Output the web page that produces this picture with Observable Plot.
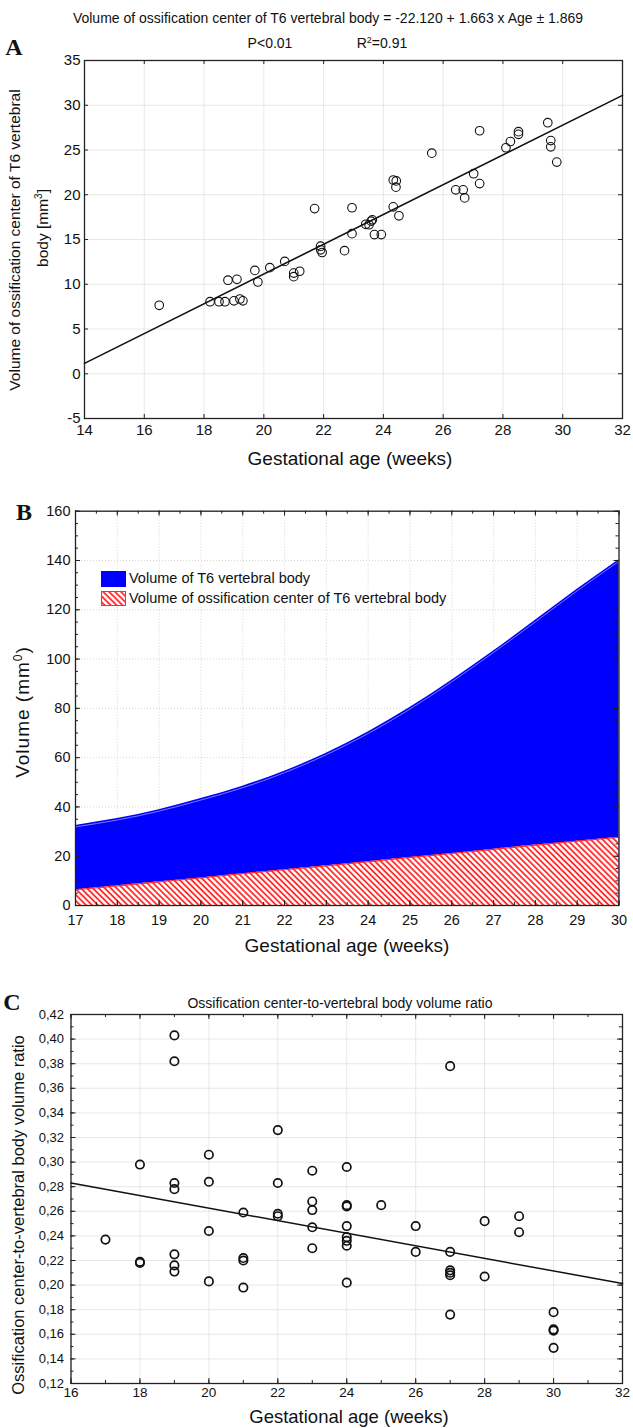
<!DOCTYPE html>
<html><head><meta charset="utf-8">
<script src="https://cdn.jsdelivr.net/npm/d3@7"></script>
<script src="https://cdn.jsdelivr.net/npm/@observablehq/plot@0.6"></script>
<style>
body{margin:0;background:#fff;}
#page{position:relative;width:633px;height:1428px;overflow:hidden;font-family:"Liberation Sans",Arial,sans-serif;color:#111;background:#fff;}
.abs{position:absolute;white-space:nowrap;line-height:1;}
.panel{position:absolute;left:0;}
.letter{font-family:"Liberation Serif","Times New Roman",serif;font-weight:bold;}
</style></head><body><div id="page"></div>
<script>
// ---------- Panel A data ----------
const ageA = [16.5, 18.2, 18.5, 18.7, 18.8, 19.0, 19.1, 19.2, 19.3, 19.7, 19.8, 20.2, 20.7, 21.0, 21.0, 21.2, 21.7, 21.9, 21.9, 21.95, 22.7, 22.95, 22.95, 23.41, 23.52, 23.59, 23.63, 23.7, 23.93, 24.33, 24.33, 24.43, 24.42, 24.52, 25.62, 26.42, 26.67, 26.72, 27.02, 27.22, 27.22, 28.1, 28.25, 28.52, 28.52, 29.5, 29.6, 29.6, 29.8];
const volA = [7.65, 8.05, 8.05, 8.05, 10.45, 8.15, 10.55, 8.35, 8.15, 11.55, 10.25, 11.85, 12.55, 10.85, 11.25, 11.45, 18.45, 14.25, 13.85, 13.55, 13.75, 15.65, 18.55, 16.7, 16.65, 17.05, 17.2, 15.55, 15.55, 18.65, 21.65, 21.55, 20.85, 17.65, 24.65, 20.55, 20.55, 19.65, 22.35, 21.25, 27.15, 25.25, 25.95, 27.05, 26.75, 28.05, 26.05, 25.35, 23.65];
const regAgeA = [14, 32];
const regVolA = [1.16, 31.1];
const xTicksA = [14, 16, 18, 20, 22, 24, 26, 28, 30, 32];
const yTicksA = [-5, 0, 5, 10, 15, 20, 25, 30, 35];

// ---------- Panel B data ----------
const ageB = [17, 18, 19, 20, 21, 22, 23, 24, 25, 26, 27, 28, 29, 30];
const vertebralB = [32.5, 35.3, 38.9, 43.4, 48.4, 54.5, 61.8, 70.4, 80.3, 91.4, 103.3, 115.7, 128.3, 140.3];
const ossificationB = [6.4, 8.0, 9.6, 11.2, 12.9, 14.5, 16.1, 17.8, 19.5, 21.1, 22.8, 24.5, 26.1, 27.7];
const xTicksB = [17, 18, 19, 20, 21, 22, 23, 24, 25, 26, 27, 28, 29, 30];
const yTicksB = [0, 20, 40, 60, 80, 100, 120, 140, 160];
const legendB = ["Volume of T6 vertebral body", "Volume of ossification center of T6 vertebral body"];

// ---------- Panel C data ----------
const ageC = [17, 18,18,18, 19,19,19,19,19,19,19, 20,20,20,20, 21,21,21,21, 22,22,22,22, 23,23,23,23,23, 24,24,24,24,24,24,24,24, 25, 26,26, 27,27,27,27,27,27, 28,28, 29,29, 30,30,30,30];
const ratioC = [0.237, 0.298,0.219,0.218, 0.403,0.382,0.283,0.278,0.225,0.216,0.211, 0.306,0.284,0.244,0.203, 0.259,0.222,0.220,0.198, 0.326,0.283,0.258,0.256, 0.293,0.268,0.261,0.247,0.230, 0.296,0.265,0.264,0.248,0.239,0.236,0.232,0.202, 0.265, 0.248,0.227, 0.378,0.227,0.212,0.210,0.208,0.176, 0.252,0.207, 0.256,0.243, 0.178,0.164,0.163,0.149];
const regAgeC = [16, 32];
const regRatioC = [0.283, 0.2013];
const xTicksC = [16, 18, 20, 22, 24, 26, 28, 30, 32];
const yTicksC = [0.12, 0.14, 0.16, 0.18, 0.20, 0.22, 0.24, 0.26, 0.28, 0.30, 0.32, 0.34, 0.36, 0.38, 0.40, 0.42];

// ---------- build tables ----------
const pointsA = ageA.map((a, i) => ({age: a, vol: volA[i]}));
const regA = regAgeA.map((a, i) => ({age: a, vol: regVolA[i]}));
const dataB = ageB.map((a, i) => ({age: a, vert: vertebralB[i], oss: ossificationB[i]}));
const pointsC = ageC.map((a, i) => ({age: a, ratio: ratioC[i]}));
const regC = regAgeC.map((a, i) => ({age: a, ratio: regRatioC[i]}));

const page = document.getElementById("page");
const W = 633;
const FONT = "'Liberation Sans', Arial, sans-serif";

function txt(x, y, html, size, extra = {}) {
  const d = document.createElement("div");
  d.className = "abs" + (extra.cls ? " " + extra.cls : "");
  d.innerHTML = html;
  d.style.left = x + "px";
  d.style.top = y + "px";
  d.style.fontSize = size + "px";
  if (extra.ls) d.style.letterSpacing = extra.ls;
  d.style.transform = "translate(-50%,-50%)" + (extra.rot ? " rotate(-90deg)" : "");
  page.appendChild(d);
  return d;
}
function place(svg, top) {
  const wrap = document.createElement("div");
  wrap.className = "panel";
  wrap.style.top = top + "px";
  wrap.appendChild(svg);
  page.appendChild(wrap);
}
function hatchDefs() {
  const defs = d3.create("svg:defs");
  const p = defs.append("pattern").attr("id", "redHatch").attr("patternUnits", "userSpaceOnUse")
    .attr("width", 4.2).attr("height", 4.2).attr("patternTransform", "rotate(-45)");
  p.append("rect").attr("width", 4.2).attr("height", 4.2).attr("fill", "#fff");
  p.append("line").attr("x1", 1).attr("y1", 0).attr("x2", 1).attr("y2", 4.2).attr("stroke", "#ff1a1a").attr("stroke-width", 1.7);
  return defs.node();
}
const range = (a, b, s) => { const r = []; for (let v = a; v <= b + 1e-9; v += s) r.push(+v.toFixed(4)); return r; };
const plain = d => String(d);

// frame ticks pointing inward
function innerTicks(xs, ys, fw, fh, len, stroke = "#222") {
  return [
    Plot.tickX(xs, {x: d => d, insetTop: fh - len, stroke}),
    Plot.tickX(xs, {x: d => d, insetBottom: fh - len, stroke}),
    Plot.tickY(ys, {y: d => d, insetRight: fw - len, stroke}),
    Plot.tickY(ys, {y: d => d, insetLeft: fw - len, stroke})
  ];
}

// ================= Panel A =================
{
  const mT = 60, mB = 42, mL = 84, mR = 11, H = 460;
  const fw = W - mL - mR, fh = H - mT - mB;
  const svg = Plot.plot({
    width: W, height: H, marginTop: mT, marginBottom: mB, marginLeft: mL, marginRight: mR,
    style: {fontFamily: FONT, fontSize: "15px", background: "transparent", color: "#111", overflow: "visible"},
    x: {domain: [14, 32]},
    y: {domain: [-5, 35]},
    marks: [
      Plot.gridX(xTicksA, {stroke: "#d8d8d8", strokeOpacity: 0.6}),
      Plot.gridY(yTicksA, {stroke: "#d8d8d8", strokeOpacity: 0.6}),
      ...innerTicks(xTicksA, yTicksA, fw, fh, 4),
      Plot.frame({stroke: "#222", strokeWidth: 1.3}),
      Plot.axisX(xTicksA, {tickSize: 0, tickPadding: 6, label: null, fontSize: 15, tickFormat: plain}),
      Plot.axisY(yTicksA, {tickSize: 0, tickPadding: 4, label: null, fontSize: 15, tickFormat: plain}),
      Plot.line(regA, {x: "age", y: "vol", stroke: "#111", strokeWidth: 1.6}),
      Plot.dot(pointsA, {x: "age", y: "vol", r: 4.3, stroke: "#111", strokeWidth: 1.1, fill: "none"})
    ]
  });
  place(svg, 0);
  txt(328, 18, "Volume of ossification center of T6 vertebral body = -22.120 + 1.663 x Age ± 1.869", 14);
  txt(270, 43, "P&lt;0.01", 14);
  txt(382, 43, "R<sup style='font-size:9px'>2</sup>=0.91", 14);
  txt(14, 47, "A", 24, {cls: "letter"});
  txt(15, 240, "Volume of ossification center of T6 vertebral", 15.5, {rot: true});
  txt(42, 228, "body [mm<sup style='font-size:10px'>3</sup>]", 15.5, {rot: true});
  txt(350, 458, "Gestational age (weeks)", 19);
}

// ================= Panel B =================
{
  const top = 470, mT = 40.7, mB = 45, mL = 75, mR = 14.5, H = 480;
  const fw = W - mL - mR, fh = H - mT - mB;
  const svg = Plot.plot({
    width: W, height: H, marginTop: mT, marginBottom: mB, marginLeft: mL, marginRight: mR,
    style: {fontFamily: FONT, fontSize: "14.5px", background: "transparent", color: "#111", overflow: "visible"},
    x: {domain: [17, 30]},
    y: {domain: [0, 160]},
    marks: [
      hatchDefs,
      Plot.gridX(xTicksB, {stroke: "#bbb", strokeOpacity: 0.6, strokeDasharray: "1,2"}),
      Plot.gridY(yTicksB, {stroke: "#bbb", strokeOpacity: 0.6, strokeDasharray: "1,2"}),
      Plot.areaY(dataB, {x: "age", y: "vert", fill: "#0000ff", curve: "natural"}),
      Plot.line(dataB, {x: "age", y: "vert", stroke: "#7a7aff", strokeWidth: 1, curve: "natural", dy: 1.5}),
      Plot.areaY(dataB, {x: "age", y: "oss", fill: "url(#redHatch)", curve: "natural"}),
      Plot.line(dataB, {x: "age", y: "oss", stroke: "#ff2a2a", strokeWidth: 1.2, curve: "natural"}),
      ...innerTicks(range(17, 30, 0.5), range(0, 160, 5), fw, fh, 3),
      ...innerTicks(xTicksB, yTicksB, fw, fh, 5),
      Plot.frame({stroke: "#222", strokeWidth: 1.3}),
      Plot.axisX(xTicksB, {tickSize: 0, tickPadding: 9, label: null, fontSize: 14.5, tickFormat: plain}),
      Plot.axisY(yTicksB, {tickSize: 0, tickPadding: 5, label: null, fontSize: 14.5, tickFormat: plain})
    ]
  });
  place(svg, top);
  txt(24, 512, "B", 24, {cls: "letter"});
  txt(22, 712, "Volume (mm<sup style='font-size:12px'>0</sup>)", 19, {rot: true, ls: "1px"});
  txt(347, 945, "Gestational age (weeks)", 19);
  // legend
  const lg = document.createElement("div");
  lg.className = "abs";
  lg.style.left = "101px"; lg.style.top = "569px"; lg.style.fontSize = "14.5px"; lg.style.lineHeight = "19px";
  lg.innerHTML =
    `<div style="display:flex;align-items:center;height:19px"><svg width="25" height="16" style="margin-right:3px"><rect width="25" height="16" fill="#0000ff"/></svg>${legendB[0]}</div>` +
    `<div style="display:flex;align-items:center;height:19px;margin-top:1px"><svg width="25" height="15" style="margin-right:3px"><rect x="0.5" y="0.5" width="24" height="14" fill="url(#redHatch)" stroke="#ff2a2a" stroke-width="1"/></svg>${legendB[1]}</div>`;
  page.appendChild(lg);
}

// ================= Panel C =================
{
  const top = 960, mT = 54, mB = 45, mL = 70.5, mR = 11, H = 468;
  const fw = W - mL - mR, fh = H - mT - mB;
  const fmt = d => d.toFixed(2).replace(".", ",");
  const svg = Plot.plot({
    width: W, height: H, marginTop: mT, marginBottom: mB, marginLeft: mL, marginRight: mR,
    style: {fontFamily: FONT, fontSize: "13px", background: "transparent", color: "#111", overflow: "visible"},
    x: {domain: [16, 32]},
    y: {domain: [0.12, 0.42]},
    marks: [
      Plot.gridX(xTicksC, {stroke: "#d8d8d8", strokeOpacity: 0.6}),
      Plot.gridY(yTicksC, {stroke: "#d8d8d8", strokeOpacity: 0.6}),
      ...innerTicks(range(16, 32, 1), range(0.12, 0.42, 0.01), fw, fh, 3),
      ...innerTicks(xTicksC, yTicksC, fw, fh, 5),
      Plot.frame({stroke: "#222", strokeWidth: 1.3}),
      Plot.axisX(xTicksC, {tickSize: 0, tickPadding: 4, label: null, fontSize: 13.5, tickFormat: plain}),
      Plot.axisY(yTicksC, {tickSize: 0, tickPadding: 7, label: null, fontSize: 13, tickFormat: fmt}),
      Plot.line(regC, {x: "age", y: "ratio", stroke: "#111", strokeWidth: 1.5}),
      Plot.dot(pointsC, {x: "age", y: "ratio", r: 4.2, stroke: "#111", strokeWidth: 1.7, fill: "none"})
    ]
  });
  place(svg, top);
  txt(12, 1002, "C", 24, {cls: "letter"});
  txt(340, 1003, "Ossification center-to-vertebral body volume ratio", 14);
  txt(18, 1215, "Ossification center-to-vertebral body volume ratio", 16.5, {rot: true});
  txt(349, 1417, "Gestational age (weeks)", 18.5);
}
</script></body></html>
